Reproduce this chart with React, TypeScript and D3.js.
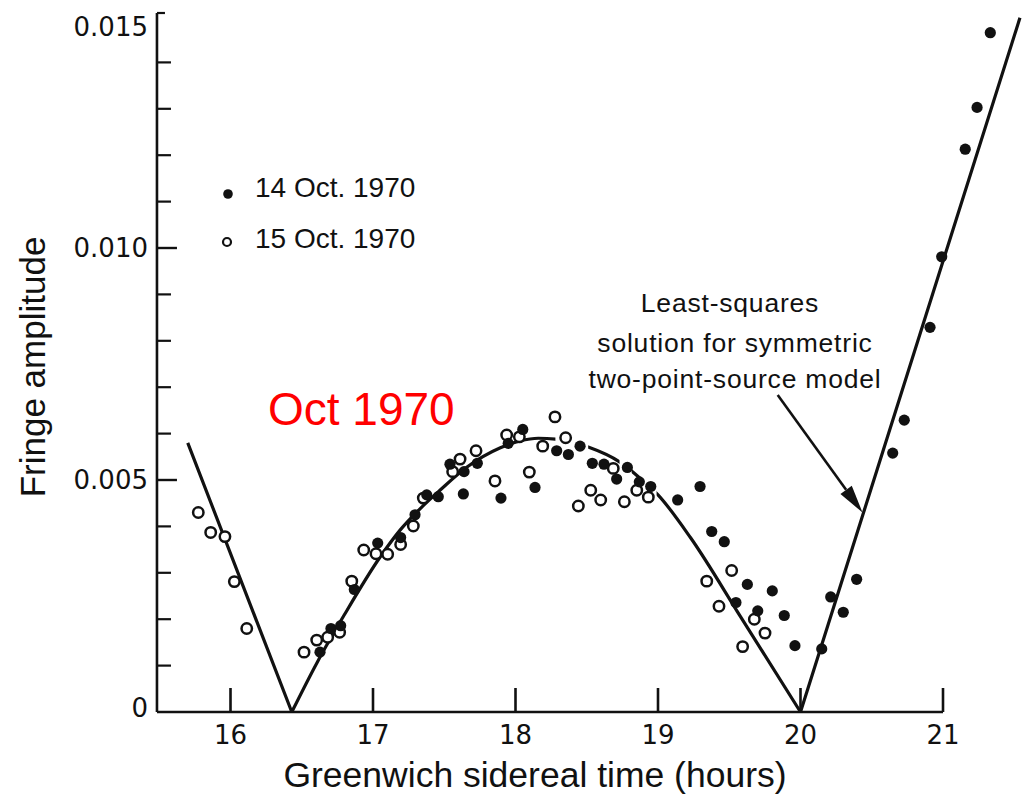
import React from 'react';
import * as d3 from 'd3';

const W = 1022;
const H = 798;

const xTicks = [16, 17, 18, 19, 20, 21];
const yMajor = [0, 0.005, 0.01, 0.015];
const yMajorLabels = ['0', '0.005', '0.010', '0.015'];
const yMinor = [0.001, 0.002, 0.003, 0.004, 0.006, 0.007, 0.008, 0.009, 0.011, 0.012, 0.013, 0.014];

// 14 Oct. 1970 (filled)
const oct14X = [16.628, 16.705, 16.773, 16.869, 17.033, 17.194, 17.295, 17.377, 17.458, 17.54, 17.639, 17.634, 17.732, 17.898, 17.949, 18.051, 18.137, 18.289, 18.371, 18.453, 18.539, 18.621, 18.71, 18.785, 18.869, 18.949, 19.138, 19.295, 19.377, 19.465, 19.547, 19.627, 19.7, 19.802, 19.886, 19.961, 20.149, 20.212, 20.3, 20.394, 20.647, 20.728, 20.909, 20.991, 21.156, 21.239, 21.332];
const oct14Y = [0.00129, 0.0018, 0.00186, 0.00264, 0.00364, 0.00376, 0.00425, 0.00468, 0.00464, 0.00534, 0.00518, 0.0047, 0.00536, 0.00461, 0.00579, 0.00609, 0.00484, 0.00563, 0.00555, 0.00573, 0.00536, 0.00534, 0.00502, 0.00527, 0.00496, 0.00486, 0.00457, 0.00486, 0.00389, 0.00367, 0.00236, 0.00275, 0.00218, 0.00261, 0.00208, 0.00143, 0.00136, 0.00248, 0.00215, 0.00286, 0.00558, 0.00629, 0.00829, 0.00981, 0.01213, 0.01303, 0.01464];

// 15 Oct. 1970 (open)
const oct15X = [15.774, 15.861, 15.961, 16.027, 16.114, 16.516, 16.605, 16.682, 16.766, 16.851, 16.935, 17.021, 17.103, 17.194, 17.283, 17.353, 17.559, 17.611, 17.723, 17.856, 17.938, 18.027, 18.097, 18.191, 18.277, 18.352, 18.441, 18.528, 18.598, 18.686, 18.764, 18.851, 18.932, 19.342, 19.428, 19.517, 19.594, 19.676, 19.751];
const oct15Y = [0.0043, 0.00387, 0.00378, 0.00281, 0.0018, 0.00129, 0.00155, 0.00161, 0.00172, 0.00282, 0.00349, 0.00341, 0.0034, 0.00361, 0.00401, 0.00461, 0.00518, 0.00545, 0.00563, 0.00498, 0.00597, 0.00593, 0.00517, 0.00573, 0.00636, 0.00591, 0.00444, 0.00478, 0.00457, 0.00525, 0.00453, 0.00478, 0.00463, 0.00282, 0.00228, 0.00305, 0.00141, 0.002, 0.0017];

// Least-squares model curve
const modelX = [15.7, 16.43, 16.61, 16.8, 17.05, 17.19, 17.33, 17.47, 17.66, 17.89, 18.03, 18.16, 18.28, 18.51, 18.73, 18.87, 19.0, 19.23, 19.58, 20.0, 21.54];
const modelY = [0.0058, 0.0, 0.00108, 0.0021, 0.00334, 0.00392, 0.00438, 0.00478, 0.00528, 0.00569, 0.00584, 0.0059, 0.00588, 0.00571, 0.00539, 0.00505, 0.00468, 0.00375, 0.00205, 0.0, 0.01496];
const modelGaps = [[18.28, 18.51], [18.73, 18.815], [18.895, 18.99]];

const legendLabels = ['14 Oct. 1970', '15 Oct. 1970'];
const noteLines = ['Least-squares', 'solution for symmetric', 'two-point-source model'];
const arrowFrom = [19.84, 0.00683];
const arrowTo = [20.435, 0.0043];

const FONT = '"Liberation Sans", Arial, Helvetica, sans-serif';
const TICKFONT = '"DejaVu Sans", Verdana, sans-serif';
const INK = '#111';

export default function App() {
  const x = d3.scaleLinear().domain([16, 21]).range([230.5, 943]);
  const y = d3.scaleLinear().domain([0, 0.015]).range([712, 16]);
  const axisX = x(15.484);
  const axisTop = 13;

  const modelPts = modelX.map((v, i) => [v, modelY[i]] as [number, number]);
  // split at the zero crossings so the V-vertices stay sharp
  const pieces: [number, number][][] = [];
  let cur: [number, number][] = [];
  modelPts.forEach((p, i) => {
    cur.push(p);
    if (p[1] === 0 && i > 0 && i < modelPts.length - 1) {
      pieces.push(cur);
      cur = [p];
    }
  });
  pieces.push(cur);
  const line = d3
    .line<[number, number]>()
    .x((d) => x(d[0]))
    .y((d) => y(d[1]))
    .curve(d3.curveMonotoneX);
  const modelPath = pieces.map((p) => line(p) || '').join(' ');

  // clip ranges (visible parts of the model line)
  const bounds: number[] = [15.5];
  modelGaps.forEach((g) => {
    bounds.push(g[0], g[1]);
  });
  bounds.push(21.7);
  const visible: [number, number][] = [];
  for (let i = 0; i < bounds.length; i += 2) visible.push([bounds[i], bounds[i + 1]]);

  const ax0 = x(arrowFrom[0]);
  const ay0 = y(arrowFrom[1]);
  const ax1 = x(arrowTo[0]);
  const ay1 = y(arrowTo[1]);
  const ang = Math.atan2(ay1 - ay0, ax1 - ax0);
  const headLen = 28;
  const headHalf = 7;
  const bx = ax1 - headLen * Math.cos(ang);
  const by = ay1 - headLen * Math.sin(ang);
  const px = -Math.sin(ang);
  const py = Math.cos(ang);
  const head = `M${ax1},${ay1} L${bx + px * headHalf},${by + py * headHalf} L${bx - px * headHalf},${by - py * headHalf} Z`;

  return (
    <svg
      width={W}
      height={H}
      viewBox={`0 0 ${W} ${H}`}
      style={{ position: 'absolute', left: 0, top: 0, background: '#fff' }}
    >
      <rect x={0} y={0} width={W} height={H} fill="#fff" />
      <defs>
        <clipPath id="modelClip">
          {visible.map((v, i) => (
            <rect key={i} x={x(v[0])} y={0} width={x(v[1]) - x(v[0])} height={H} />
          ))}
        </clipPath>
      </defs>

      {/* Y axis */}
      <line x1={axisX} x2={axisX} y1={axisTop} y2={y(0)} stroke={INK} strokeWidth={2.6} />
      <line x1={axisX} x2={axisX + 8} y1={axisTop} y2={axisTop} stroke={INK} strokeWidth={2.2} />
      {yMajor.map((v, i) => (
        <g key={'ym' + i}>
          {v > 0 && v < 0.015 && (
            <line x1={axisX} x2={axisX + 20} y1={y(v)} y2={y(v)} stroke={INK} strokeWidth={2.4} />
          )}
          <text
            x={148}
            y={y(v) + (v === 0 ? 2 : v === 0.015 ? 17 : 6) + 3}
            textAnchor="end"
            fontFamily={TICKFONT}
            fontSize={26}
            fill={INK}
          >
            {yMajorLabels[i]}
          </text>
        </g>
      ))}
      {yMinor.map((v, i) => (
        <line key={'yn' + i} x1={axisX} x2={axisX + 14} y1={y(v)} y2={y(v)} stroke={INK} strokeWidth={2.2} />
      ))}

      {/* X axis */}
      <line x1={axisX} x2={x(21)} y1={y(0)} y2={y(0)} stroke={INK} strokeWidth={2.6} />
      {xTicks.map((v) => (
        <g key={'xt' + v}>
          <line x1={x(v)} x2={x(v)} y1={y(0)} y2={y(0) - 24} stroke={INK} strokeWidth={2.6} />
          <text x={x(v)} y={744} textAnchor="middle" fontFamily={TICKFONT} fontSize={26} fill={INK}>
            {v}
          </text>
        </g>
      ))}

      {/* Axis titles */}
      <text x={535} y={787} textAnchor="middle" fontFamily={FONT} fontSize={35.5} fill={INK}>
        Greenwich sidereal time (hours)
      </text>
      <text
        transform={`translate(45,367) rotate(-90)`}
        textAnchor="middle"
        fontFamily={FONT}
        fontSize={35}
        fill={INK}
      >
        Fringe amplitude
      </text>

      {/* Model line */}
      <path
        d={modelPath}
        fill="none"
        stroke={INK}
        strokeWidth={3.2}
        clipPath="url(#modelClip)"
        strokeLinejoin="round"
      />

      {/* Data points */}
      {oct15X.map((v, i) => (
        <circle key={'o' + i} cx={x(v)} cy={y(oct15Y[i])} r={5.2} fill="#fff" stroke={INK} strokeWidth={2.5} />
      ))}
      {oct14X.map((v, i) => (
        <circle key={'f' + i} cx={x(v)} cy={y(oct14Y[i])} r={5.6} fill={INK} />
      ))}

      {/* Legend */}
      <circle cx={228} cy={194} r={4.8} fill={INK} />
      <text x={255} y={197} fontFamily={FONT} fontSize={28} fill={INK}>
        {legendLabels[0]}
      </text>
      <circle cx={227} cy={242} r={4} fill="#fff" stroke={INK} strokeWidth={2.2} />
      <text x={255} y={248} fontFamily={FONT} fontSize={28} fill={INK}>
        {legendLabels[1]}
      </text>

      {/* Annotation */}
      {noteLines.map((t, i) => (
        <text
          key={'n' + i}
          x={i === 0 ? 730 : 735}
          y={[312, 352, 388][i]}
          textAnchor="middle"
          fontFamily={FONT}
          fontSize={26.5}
          letterSpacing={0.8}
          fill={INK}
        >
          {t}
        </text>
      ))}
      <line x1={ax0} y1={ay0} x2={bx} y2={by} stroke={INK} strokeWidth={2.6} />
      <path d={head} fill={INK} />

      {/* Red overlay label */}
      <text x={268} y={425} fontFamily={FONT} fontSize={46} fill="#ff0000">
        Oct 1970
      </text>
    </svg>
  );
}
